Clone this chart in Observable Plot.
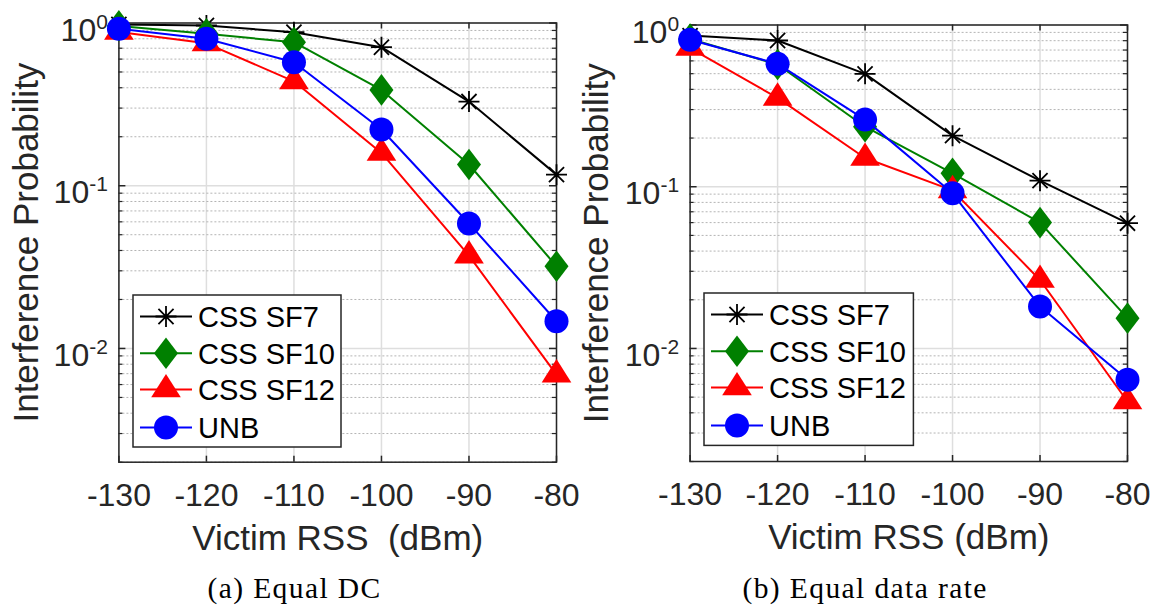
<!DOCTYPE html>
<html><head><meta charset="utf-8">
<script src="https://cdn.jsdelivr.net/npm/d3@7"></script>
<script src="https://cdn.jsdelivr.net/npm/@observablehq/plot@0.6"></script>
<style>
body{margin:0;background:#fff;}
#root{position:relative;width:1154px;height:610px;overflow:hidden;}
.panel{position:absolute;top:0;}
.legend{position:absolute;}
g[aria-label="caption"] text{letter-spacing:1.4px;}
</style></head><body><div id="root"></div>
<script>
// ---- data ----
const rss = [-130, -120, -110, -100, -90, -80];
const seriesNames = ["CSS SF7", "CSS SF10", "CSS SF12", "UNB"];
// (a) Equal DC
const dcSF7  = [0.98, 0.965, 0.878, 0.71, 0.329, 0.117];
const dcSF10 = [0.96, 0.858, 0.762, 0.388, 0.135, 0.032];
const dcSF12 = [0.88, 0.75, 0.438, 0.159, 0.0372, 0.0069];
const dcUNB  = [0.921, 0.80, 0.574, 0.2215, 0.0586, 0.0147];
// (b) Equal data rate
const drSF7  = [0.86, 0.802, 0.499, 0.207, 0.109, 0.0595];
const drSF10 = [0.82, 0.57, 0.235, 0.121, 0.060, 0.0154];
const drSF12 = [0.72, 0.354, 0.1505, 0.095, 0.0265, 0.0047];
const drUNB  = [0.81, 0.575, 0.26, 0.091, 0.0182, 0.0064];
// ticks & labels
const xTicks = [-130, -120, -110, -100, -90, -80];
const yMajor = [0.01, 0.1, 1];
const yMinor = [0.002,0.003,0.004,0.005,0.006,0.007,0.008,0.009,
                0.02,0.03,0.04,0.05,0.06,0.07,0.08,0.09,
                0.2,0.3,0.4,0.5,0.6,0.7,0.8,0.9];
const captions = ["(a) Equal DC", "(b) Equal data rate"];
const xLabels = ["Victim RSS\u00a0 (dBm)", "Victim RSS (dBm)"];
const yLabel = "Interference Probability";

// ---- marker symbols (MATLAB-like) ----
const starSym = {draw(ctx, size){const r=Math.sqrt(size/Math.PI), d=r*0.72;
  ctx.moveTo(0,-r);ctx.lineTo(0,r);ctx.moveTo(-r,0);ctx.lineTo(r,0);
  ctx.moveTo(-d,-d);ctx.lineTo(d,d);ctx.moveTo(-d,d);ctx.lineTo(d,-d);}};
const diamondSym = {draw(ctx, size){const r=Math.sqrt(size/Math.PI), w=r*0.76;
  ctx.moveTo(0,-r);ctx.lineTo(w,0);ctx.lineTo(0,r);ctx.lineTo(-w,0);ctx.closePath();}};
const triSym = {draw(ctx, size){const r=Math.sqrt(size/Math.PI);
  ctx.moveTo(0,-r);ctx.lineTo(r*0.95,r*0.5);ctx.lineTo(-r*0.95,r*0.5);ctx.closePath();}};
const styles = [
  {color:"#000000", symbol:starSym, r:10.5, fill:"none", stroke:"#000000", sw:1.8},
  {color:"#008000", symbol:diamondSym, r:15.8, fill:"#008000", stroke:"none", sw:0},
  {color:"#ff0000", symbol:triSym, r:15.6, fill:"#ff0000", stroke:"none", sw:0},
  {color:"#0000ff", symbol:d3.symbolCircle, r:12, fill:"#0000ff", stroke:"none", sw:0}
];

const AX = "#262626";
const FONT = "'Liberation Sans', Arial, Helvetica, sans-serif";

function makePanel(cfg) {
  const {series, left, width, height, mt, mb, ml, mr, xLabel, caption, labelDx, capDx, legend} = cfg;
  const plotW = width - ml - mr, plotH = height - mt - mb;
  const marks = [
    Plot.ruleX(xTicks, {stroke:"#dedede", strokeWidth:1.5}),
    Plot.ruleY(yMinor, {stroke:"#b4b4b4", strokeWidth:1, strokeDasharray:"2,2"}),
    Plot.ruleY(yMajor, {stroke:"#dedede", strokeWidth:1.5}),
    Plot.ruleX(xTicks, {insetTop: plotH - 6, stroke:AX, strokeWidth:1.5}),
    Plot.ruleX(xTicks, {insetBottom: plotH - 6, stroke:AX, strokeWidth:1.5}),
    Plot.ruleY(yMajor, {insetRight: plotW - 7, stroke:AX, strokeWidth:1.5}),
    Plot.ruleY(yMajor, {insetLeft: plotW - 7, stroke:AX, strokeWidth:1.5}),
    Plot.ruleY(yMinor, {insetRight: plotW - 4, stroke:AX, strokeWidth:1.2}),
    Plot.ruleY(yMinor, {insetLeft: plotW - 4, stroke:AX, strokeWidth:1.2}),
    Plot.frame({stroke:AX, strokeWidth:1.5}),
    Plot.axisX(xTicks, {tickSize:0, tickPadding:21, label:null, fill:AX, tickFormat:d=>String(d)}),
    Plot.axisY(yMajor, {tickSize:0, tickPadding:11, label:null, fill:AX,
      tickFormat:d=>String(Math.round(Math.log10(d)))})
  ];
  series.forEach((vals, k) => {
    const s = styles[k];
    const rows = rss.map((x, i) => ({x, y: vals[i]}));
    marks.push(Plot.line(rows, {x:"x", y:"y", stroke:s.color, strokeWidth:2}));
    marks.push(Plot.dot(rows, {x:"x", y:"y", symbol:s.symbol, r:s.r, fill:s.fill,
      stroke:s.stroke, strokeWidth:s.sw}));
  });
  marks.push(Plot.text([xLabel], {frameAnchor:"bottom", dy:87.3, lineAnchor:"bottom",
    textAnchor:"middle", fontSize:35, fill:AX, text:d=>d}));
  marks.push(Plot.text([yLabel], {frameAnchor:"left", rotate:-90, dx:labelDx,
    textAnchor:"middle", lineAnchor:"middle", fontSize:35, fill:AX, text:d=>d}));
  marks.push(Plot.text([caption], {frameAnchor:"bottom", dx:capDx, dy:597 - (mt + plotH),
    lineAnchor:"bottom", textAnchor:"middle", fontSize:29.5,
    fontFamily:"'Liberation Serif', 'Times New Roman', serif",
    fill:"#000", text:d=>d, ariaLabel:"caption"}));

  const svg = Plot.plot({
    width, height, marginTop:mt, marginBottom:mb, marginLeft:ml, marginRight:mr,
    x:{domain:[-130,-80]},
    y:{type:"log", domain:[0.002, 1]},
    style:{fontFamily:FONT, fontSize:"32px", background:"transparent", overflow:"visible"},
    marks
  });
  // superscript exponents on y tick labels
  svg.querySelectorAll('[aria-label="y-axis tick label"] text').forEach(t => {
    const e = t.textContent;
    t.textContent = "";
    t.setAttribute("y", "0.55em");
    const base = document.createElementNS("http://www.w3.org/2000/svg", "tspan");
    base.textContent = "10";
    const sup = document.createElementNS("http://www.w3.org/2000/svg", "tspan");
    sup.textContent = e;
    sup.setAttribute("dy", "-12");
    sup.setAttribute("font-size", "21");
    t.appendChild(base); t.appendChild(sup);
  });
  svg.querySelectorAll('text').forEach(t => {
    if (t.textContent === caption) t.setAttribute("letter-spacing", "1.4");
  });
  svg.classList.add("panel");
  svg.style.left = left + "px";
  document.getElementById("root").appendChild(svg);

  // legend box
  const L = legend;
  const lg = d3.select("#root").append("svg").attr("class","legend")
    .attr("width", L.w + 4).attr("height", L.h + 4)
    .style("left", (L.x - 2) + "px").style("top", (L.y - 2) + "px");
  lg.append("rect").attr("x",2).attr("y",2).attr("width",L.w).attr("height",L.h)
    .attr("fill","#fff").attr("stroke",AX).attr("stroke-width",1.5);
  const rowsY = [21.5, 58.2, 94.5, 132.5];
  seriesNames.forEach((name, k) => {
    const s = styles[k], y = 2 + rowsY[k];
    lg.append("line").attr("x1",2+7).attr("x2",2+59).attr("y1",y).attr("y2",y)
      .attr("stroke",s.color).attr("stroke-width",2);
    lg.append("path").attr("transform",`translate(${2+33},${y})`)
      .attr("d", d3.symbol().type(s.symbol).size(s.r*s.r*Math.PI)())
      .attr("fill", s.fill).attr("stroke", s.stroke).attr("stroke-width", s.sw);
    lg.append("text").attr("x",2+65).attr("y",y).attr("dy","0.36em")
      .attr("font-family",FONT).attr("font-size",29).attr("fill","#000").text(name);
  });
}

makePanel({series:[dcSF7, dcSF10, dcSF12, dcUNB], left:0, width:577, height:610,
  mt:22.5, mb:610-461.7, ml:118.4, mr:577-556, xLabel:xLabels[0], caption:captions[0],
  labelDx:-92.6, capDx:294-337.2, legend:{x:133, y:295, w:208, h:152}});
makePanel({series:[drSF7, drSF10, drSF12, drUNB], left:577, width:577, height:610,
  mt:24.5, mb:610-461, ml:112.6, mr:577-550, xLabel:xLabels[1], caption:captions[1],
  labelDx:-93.4, capDx:864.6-908.3, legend:{x:704.4, y:293.3, w:209.4, h:152.4}});
</script></body></html>
